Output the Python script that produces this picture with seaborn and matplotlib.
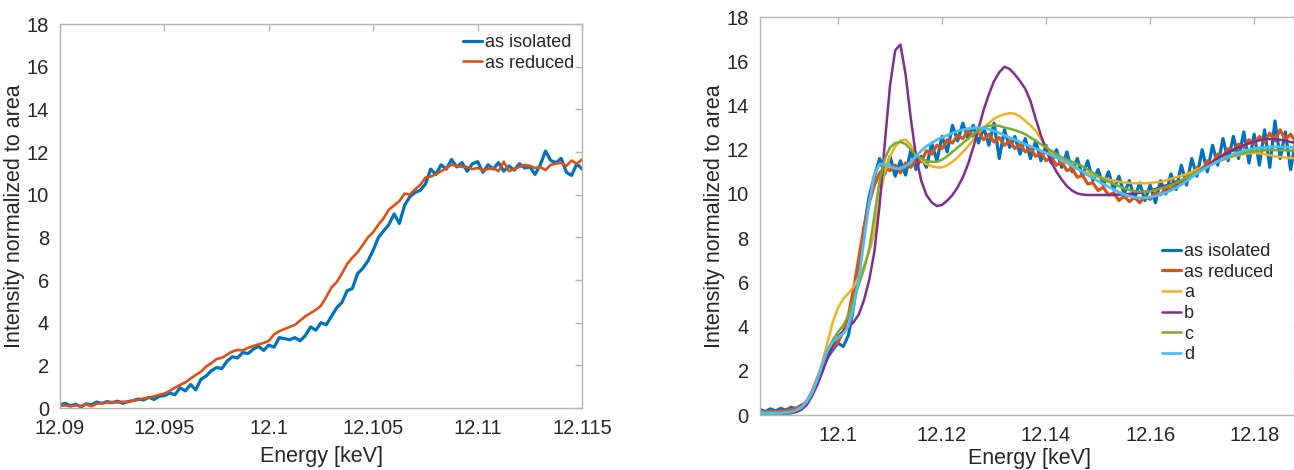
import numpy as np
import seaborn as sns
import matplotlib
matplotlib.use("Agg")
import matplotlib.pyplot as plt

# ---- data ----
# left panel: energy grid 12.09 .. 12.115 keV, step 0.00025
e_left = np.round(12.09 + 0.00025 * np.arange(101), 5)
left_isolated = [
    0.15, 0.22, 0.10, 0.18, 0.05, 0.20, 0.15, 0.28, 0.22, 0.30,
    0.25, 0.32, 0.22, 0.30, 0.35, 0.42, 0.38, 0.50, 0.40, 0.55,
    0.58, 0.70, 0.62, 0.95, 0.80, 1.10, 0.85, 1.35, 1.50, 1.75,
    1.90, 1.85, 2.20, 2.40, 2.35, 2.60, 2.55, 2.75, 2.90, 2.70,
    2.95, 2.85, 3.30, 3.25, 3.20, 3.30, 3.15, 3.40, 3.80, 3.65,
    4.00, 3.90, 4.30, 4.70, 4.95, 5.50, 5.60, 6.30, 6.55, 6.90,
    7.40, 8.00, 8.30, 8.60, 9.10, 8.65, 9.50, 9.90, 10.10, 10.20,
    10.50, 11.20, 10.95, 11.40, 11.20, 11.65, 11.30, 11.50, 11.10, 11.45,
    11.55, 11.05, 11.40, 11.20, 11.50, 11.10, 11.35, 11.15, 11.45, 11.25,
    11.30, 10.95, 11.40, 12.05, 11.60, 11.50, 11.70, 11.05, 10.90, 11.45,
    11.20]
left_reduced = [
    0.10, 0.12, 0.08, 0.12, 0.10, 0.18, 0.08, 0.20, 0.22, 0.25,
    0.28, 0.26, 0.30, 0.28, 0.35, 0.38, 0.45, 0.48, 0.55, 0.62,
    0.68, 0.80, 0.95, 1.08, 1.20, 1.38, 1.55, 1.70, 1.95, 2.10,
    2.30, 2.35, 2.50, 2.65, 2.72, 2.70, 2.82, 2.90, 2.98, 3.05,
    3.15, 3.45, 3.60, 3.70, 3.80, 3.90, 4.10, 4.30, 4.45, 4.60,
    4.80, 5.20, 5.65, 5.90, 6.30, 6.75, 7.05, 7.30, 7.65, 8.00,
    8.25, 8.60, 8.90, 9.30, 9.50, 9.70, 10.05, 10.00, 10.25, 10.45,
    10.80, 10.85, 10.95, 11.10, 11.25, 11.40, 11.35, 11.30, 11.30, 11.20,
    11.25, 11.15, 11.20, 11.25, 11.10, 11.55, 11.10, 11.20, 11.30, 11.40,
    11.35, 11.25, 11.30, 11.15, 11.40, 11.45, 11.50, 11.35, 11.60, 11.45,
    11.65]

# right panel: energy grid 12.085 .. 12.188 keV, step 0.001
e_right = np.round(12.085 + 0.001 * np.arange(104), 3)
right_isolated = [
    0.25, 0.15, 0.28, 0.18, 0.30, 0.22, 0.35, 0.30, 0.45, 0.55,
    0.95, 1.45, 2.05, 2.60, 2.95, 3.25, 3.10, 3.60, 4.90, 6.60,
    8.40, 9.90, 10.80, 11.60, 10.90, 11.70, 10.80, 11.50, 10.85, 12.00,
    11.10, 11.70, 11.20, 12.30, 11.50, 12.60, 11.90, 13.10, 12.40, 13.20,
    12.50, 13.10, 12.30, 13.00, 12.20, 13.20, 11.60, 12.90, 12.10, 12.60,
    11.80, 12.50, 11.60, 12.40, 11.50, 12.20, 11.40, 12.00, 11.20, 11.90,
    11.00, 11.60, 10.80, 11.50, 10.60, 11.10, 10.40, 11.00, 10.20, 10.80,
    10.00, 10.60, 9.80, 10.50, 9.70, 10.40, 9.60, 10.60, 10.00, 10.90,
    10.20, 11.30, 10.40, 11.60, 10.80, 12.00, 11.00, 12.20, 11.30, 12.50,
    11.50, 12.60, 11.60, 12.80, 11.40, 12.70, 11.30, 12.90, 11.20, 13.30,
    11.60, 12.80, 11.10, 12.40]
right_reduced = [
    0.15, 0.12, 0.18, 0.15, 0.20, 0.18, 0.25, 0.30, 0.40, 0.62,
    1.05, 1.65, 2.25, 2.75, 3.05, 3.30, 3.75, 4.50, 5.70, 7.10,
    8.50, 9.60, 10.40, 10.95, 11.20, 11.05, 11.30, 10.95, 11.40, 11.20,
    11.60, 11.45, 11.95, 11.80, 12.20, 12.05, 12.45, 12.30, 12.65, 12.50,
    12.85, 12.60, 12.80, 12.45, 12.70, 12.35, 12.55, 12.20, 12.40, 12.05,
    12.25, 11.90, 12.05, 11.70, 11.85, 11.50, 11.65, 11.30, 11.45, 11.05,
    11.15, 10.75, 10.85, 10.45, 10.50, 10.15, 10.30, 9.95, 10.05, 9.70,
    9.90, 9.65, 9.85, 9.60, 9.90, 9.75, 10.05, 9.95, 10.30, 10.20,
    10.55, 10.45, 10.85, 10.80, 11.20, 11.10, 11.50, 11.40, 11.80, 11.70,
    12.05, 11.95, 12.25, 12.10, 12.45, 12.25, 12.60, 12.35, 12.75, 12.40,
    12.90, 12.45, 12.70, 12.35]
right_a = [
    0.05, 0.05, 0.05, 0.05, 0.06, 0.08, 0.12, 0.20, 0.35, 0.60,
    1.00, 1.60, 2.40, 3.30, 4.20, 4.85, 5.25, 5.50, 5.80, 6.25,
    6.75, 7.40, 8.20, 9.80, 11.00, 11.70, 12.15, 12.40, 12.45, 12.20,
    11.85, 11.55, 11.35, 11.25, 11.20, 11.20, 11.30, 11.45, 11.65, 11.90,
    12.15, 12.45, 12.75, 13.00, 13.20, 13.40, 13.52, 13.60, 13.65, 13.62,
    13.50, 13.30, 13.10, 12.85, 12.50, 12.15, 11.85, 11.65, 11.50, 11.40,
    11.25, 11.12, 11.02, 10.95, 10.85, 10.78, 10.72, 10.65, 10.60, 10.55,
    10.52, 10.50, 10.48, 10.48, 10.48, 10.50, 10.52, 10.55, 10.60, 10.68,
    10.75, 10.82, 10.90, 11.00, 11.10, 11.20, 11.30, 11.40, 11.48, 11.55,
    11.62, 11.70, 11.75, 11.80, 11.83, 11.85, 11.83, 11.80, 11.75, 11.70,
    11.67, 11.64, 11.62, 11.60]
right_b = [
    0.03, 0.03, 0.03, 0.03, 0.04, 0.05, 0.08, 0.14, 0.25, 0.45,
    0.85, 1.35, 1.95, 2.60, 3.15, 3.55, 3.80, 3.98, 4.20, 4.55,
    5.20, 6.10, 7.40, 9.50, 12.30, 14.90, 16.50, 16.75, 15.40, 13.40,
    11.70, 10.60, 9.95, 9.62, 9.45, 9.50, 9.70, 9.95, 10.30, 10.75,
    11.35, 12.10, 12.95, 13.80, 14.50, 15.10, 15.50, 15.75, 15.65, 15.40,
    15.10, 14.75, 14.20, 13.40, 12.65, 12.00, 11.45, 11.00, 10.65, 10.35,
    10.15, 10.02, 9.97, 9.95, 9.95, 9.95, 9.95, 9.95, 9.95, 9.97,
    9.98, 10.00, 10.02, 10.05, 10.10, 10.15, 10.22, 10.30, 10.38, 10.45,
    10.52, 10.60, 10.72, 10.85, 11.00, 11.15, 11.30, 11.45, 11.60, 11.75,
    11.88, 12.00, 12.10, 12.20, 12.28, 12.35, 12.42, 12.47, 12.48, 12.47,
    12.45, 12.40, 12.35, 12.30]
right_c = [
    0.05, 0.05, 0.05, 0.05, 0.06, 0.08, 0.12, 0.20, 0.35, 0.60,
    1.00, 1.60, 2.30, 2.95, 3.40, 3.75, 4.05, 4.50, 5.20, 5.90,
    6.60, 7.50, 9.00, 10.60, 11.60, 12.10, 12.30, 12.35, 12.25, 12.00,
    11.75, 11.60, 11.50, 11.45, 11.45, 11.55, 11.70, 11.90, 12.10, 12.30,
    12.50, 12.70, 12.85, 13.00, 13.08, 13.10, 13.08, 13.00, 12.95, 12.88,
    12.80, 12.70, 12.55, 12.40, 12.25, 12.10, 11.95, 11.80, 11.65, 11.55,
    11.45, 11.35, 11.25, 11.10, 10.95, 10.80, 10.65, 10.55, 10.45, 10.35,
    10.25, 10.18, 10.12, 10.10, 10.10, 10.12, 10.18, 10.25, 10.32, 10.40,
    10.50, 10.62, 10.75, 10.88, 11.00, 11.12, 11.22, 11.35, 11.45, 11.55,
    11.65, 11.72, 11.80, 11.85, 11.90, 11.92, 11.95, 11.97, 11.98, 11.98,
    11.98, 11.97, 11.96, 11.95]
right_d = [
    0.10, 0.10, 0.10, 0.10, 0.10, 0.12, 0.15, 0.22, 0.35, 0.60,
    1.00, 1.60, 2.30, 2.95, 3.30, 3.50, 3.70, 4.00, 4.90, 6.20,
    7.90, 9.60, 10.90, 11.35, 11.35, 11.25, 11.15, 11.15, 11.25, 11.45,
    11.70, 11.95, 12.15, 12.30, 12.45, 12.55, 12.65, 12.75, 12.85, 12.90,
    12.95, 12.98, 13.00, 12.98, 12.92, 12.85, 12.75, 12.65, 12.55, 12.45,
    12.35, 12.25, 12.15, 12.05, 11.95, 11.85, 11.75, 11.65, 11.55, 11.45,
    11.30, 11.15, 11.00, 10.85, 10.72, 10.58, 10.45, 10.32, 10.20, 10.08,
    9.98, 9.90, 9.85, 9.82, 9.82, 9.85, 9.90, 9.98, 10.06, 10.16,
    10.28, 10.42, 10.58, 10.75, 10.92, 11.08, 11.22, 11.35, 11.48, 11.60,
    11.70, 11.80, 11.88, 11.95, 12.00, 12.05, 12.08, 12.10, 12.12, 12.13,
    12.13, 12.12, 12.12, 12.10]

y_ticks = [0, 2, 4, 6, 8, 10, 12, 14, 16, 18]
left_xticks = [12.09, 12.095, 12.1, 12.105, 12.11, 12.115]
left_xlabels = ["12.09", "12.095", "12.1", "12.105", "12.11", "12.115"]
right_xticks = [12.1, 12.12, 12.14, 12.16, 12.18]
right_xlabels = ["12.1", "12.12", "12.14", "12.16", "12.18"]

# matlab default colour order
c_blue, c_orange, c_yellow = "#0072BD", "#D95319", "#EDB120"
c_purple, c_green, c_cyan = "#7E2F8E", "#77AC30", "#4DBEEE"

sns.set_style("white")
plt.rcParams["font.family"] = ["Liberation Sans", "DejaVu Sans"]
plt.rcParams["axes.edgecolor"] = "#b5b5b5"
plt.rcParams["xtick.color"] = "#b5b5b5"
plt.rcParams["ytick.color"] = "#b5b5b5"
plt.rcParams["xtick.labelcolor"] = "#262626"
plt.rcParams["ytick.labelcolor"] = "#262626"

fig = plt.figure(figsize=(12.94, 4.70), dpi=100)
ax1 = fig.add_axes([0.0464, 0.1319, 0.4034, 0.817])
ax2 = fig.add_axes([0.5873, 0.1170, 0.4173, 0.8468])

# left panel
sns.lineplot(x=e_left, y=left_isolated, ax=ax1, color=c_blue, lw=2.3,
             label="as isolated", estimator=None)
sns.lineplot(x=e_left, y=left_reduced, ax=ax1, color=c_orange, lw=1.9,
             label="as reduced", estimator=None)
ax1.set_xlim(12.09, 12.115)
ax1.set_xticks(left_xticks, left_xlabels)

# right panel
for vals, col, lw, name in [(right_isolated, c_blue, 2.3, "as isolated"),
                            (right_reduced, c_orange, 2.3, "as reduced"),
                            (right_a, c_yellow, 1.8, "a"),
                            (right_b, c_purple, 1.8, "b"),
                            (right_c, c_green, 1.8, "c"),
                            (right_d, c_cyan, 2.0, "d")]:
    sns.lineplot(x=e_right, y=vals, ax=ax2, color=col, lw=lw, label=name,
                 estimator=None)
ax2.set_xlim(12.085, 12.1888)
ax2.set_xticks(right_xticks, right_xlabels)

for ax in (ax1, ax2):
    ax.set_ylim(0, 18)
    ax.set_yticks(y_ticks)
    ax.tick_params(direction="in", length=5, width=1, top=True, right=True,
                   labelsize=14.5, pad=8)
    for sp in ax.spines.values():
        sp.set_linewidth(1)
    ax.set_ylabel("Intensity normalized to area", fontsize=15.5,
                  color="#262626", labelpad=1)
ax1.set_xlabel("Energy [keV]", fontsize=15.5, color="#262626", labelpad=6)
ax2.set_xlabel("Energy [keV]", fontsize=15.5, color="#262626", labelpad=2)

ax1.legend(loc="upper left", bbox_to_anchor=(0.772, 0.974), frameon=False,
           fontsize=13, borderpad=0, borderaxespad=0, handlelength=1.05,
           handletextpad=0.15, labelspacing=0.2)
ax2.legend(loc="upper left", bbox_to_anchor=(0.745, 0.432), frameon=False,
           fontsize=13, borderpad=0, borderaxespad=0, handlelength=1.05,
           handletextpad=0.15, labelspacing=0.2)

fig.savefig("out.png", dpi=100)
